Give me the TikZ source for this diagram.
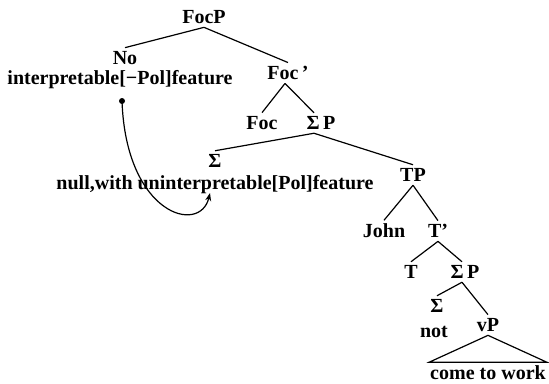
\documentclass[tikz,border=0pt]{standalone}
\usepackage{fontspec}
\setmainfont{Liberation Serif}
\usetikzlibrary{positioning,arrows.meta}

\begin{document}
\begin{tikzpicture}[x=1pt,y=-1pt,
	every node/.style={font=\fontsize{20}{22}\selectfont\bfseries, inner xsep=1pt, inner ysep=3.5pt},
	branch/.style={draw=black, line width=1.2pt}]
	\useasboundingbox (0,0) rectangle (549,383);

	\node (focp) at (204,17) {FocP};
	\node (no) at (125,58) {No};
	\node (nofeat) at (120,80) {interpretable[−Pol]feature};
	\node (focbar) at (288,73) {Foc\,’};
	\node (foc) at (262,123) {Foc};
	\node (sigp) at (321,123) {Σ\,P};
	\node (sig) at (215,161) {Σ};
	\node (sigfeat) at (215,185) {null,with uninterpretable[Pol]feature};
	\node (tp) at (413,175) {TP};
	\node (john) at (384,231) {John};
	\node (tbar) at (438,231) {T’};
	\node (t) at (411,272) {T};
	\node (sigp2) at (465,272) {Σ\,P};
	\node (sig2) at (437,306) {Σ};
	\node (not) at (434,332) {not};
	\node (vp) at (488,325) {vP};
	\node (cw) at (488,373) {come to work};

	\draw[branch] (focp.south) -- (no.north);
	\draw[branch] (focp.south) -- (focbar.north);
	\draw[branch] ([xshift=-3pt]focbar.south) -- (foc.north);
	\draw[branch] ([xshift=-3pt]focbar.south) -- ([xshift=-7pt]sigp.north);
	\draw[branch] ([xshift=-7pt]sigp.south) -- (sig.north);
	\draw[branch] ([xshift=-7pt]sigp.south) -- (tp.north);
	\draw[branch] (tp.south) -- (john.north);
	\draw[branch] (tp.south) -- (tbar.north);
	\draw[branch] (tbar.south) -- (t.north);
	\draw[branch] (tbar.south) -- ([xshift=-3pt]sigp2.north);
	\draw[branch] ([xshift=-3pt]sigp2.south) -- (sig2.north);
	\draw[branch] ([xshift=-3pt]sigp2.south) -- (vp.north);
	\draw[branch] (vp.south) -- (cw.north east) -- (cw.north west) -- cycle;

	% movement arrow
	\coordinate (from) at (122,101);
	\coordinate (to) at (210,193);
	\fill (from) circle (3pt);
	\draw[line width=1.2pt, -{Stealth[length=8pt]}] (from) .. controls (126,215) and (200,235) .. (to);
\end{tikzpicture}
\end{document}
